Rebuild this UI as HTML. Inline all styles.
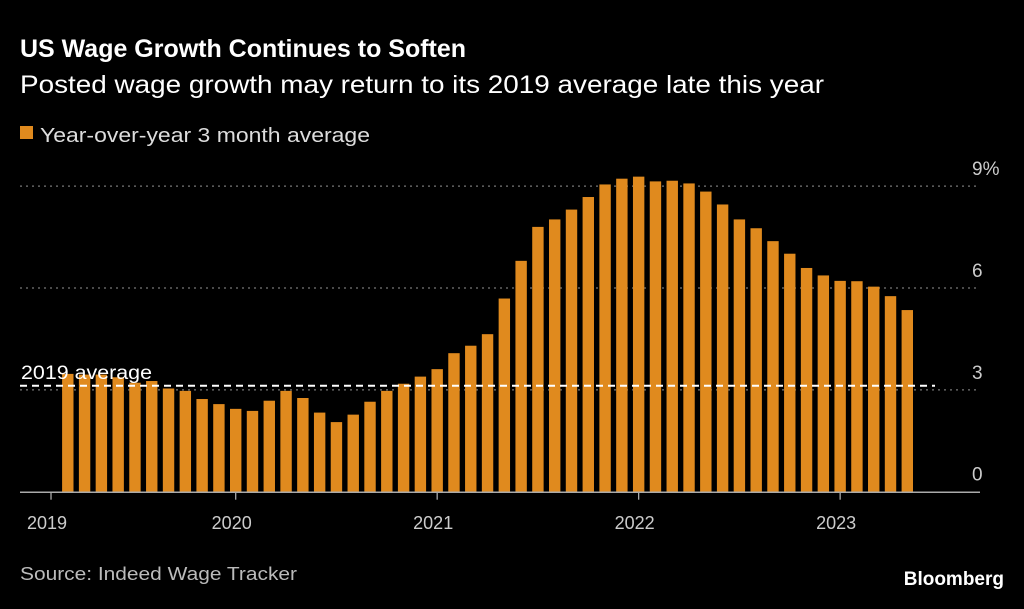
<!DOCTYPE html>
<html><head><meta charset="utf-8"><style>
body{margin:0;background:#000;width:1024px;height:604px;overflow:hidden;font-family:"Liberation Sans",sans-serif;}
</style></head><body>
<svg width="1024" height="604" xmlns="http://www.w3.org/2000/svg">
<text x="20" y="57" fill="#fff" font-size="25" font-weight="bold" textLength="446" lengthAdjust="spacingAndGlyphs">US Wage Growth Continues to Soften</text>
<text x="20" y="93" fill="#fff" font-size="25" textLength="804" lengthAdjust="spacingAndGlyphs">Posted wage growth may return to its 2019 average late this year</text>
<rect x="20" y="126" width="13" height="13" fill="#e08a1e"/>
<text x="40" y="142" fill="#ddd" font-size="20" textLength="330" lengthAdjust="spacingAndGlyphs">Year-over-year 3 month average</text>
<g id="grid"></g>
<g id="bars"></g>
<g id="over"></g>
<text x="20" y="580" fill="#bbb" font-size="18" textLength="277" lengthAdjust="spacingAndGlyphs">Source: Indeed Wage Tracker</text>
<text x="1004" y="585" fill="#fff" font-size="19" font-weight="bold" text-anchor="end">Bloomberg</text>
</svg>
<script>
const months = Array.from({length:51},(_,i)=>i+2); // months since Jan 2019
const values = [3.47,3.45,3.45,3.37,3.21,3.26,3.04,2.97,2.73,2.58,2.44,2.38,2.68,2.97,2.76,2.33,2.05,2.27,2.65,2.97,3.18,3.39,3.61,4.08,4.30,4.64,5.69,6.80,7.80,8.02,8.31,8.68,9.05,9.22,9.28,9.14,9.16,9.08,8.84,8.46,8.02,7.76,7.38,7.01,6.59,6.37,6.21,6.20,6.04,5.76,5.35];
const yTicks = [0,3,6,9];
const yTickLabels = ["0","3","6","9%"];
const years = ["2019","2020","2021","2022","2023"];
const yearMonths = [1,12,24,36,48];
const avg2019 = 3.12;
const NS="http://www.w3.org/2000/svg";
const x = m => 235.7 + (m-12)*16.79;
const y = v => 491.7 - v*33.95;
function mk(t,a,p){const e=document.createElementNS(NS,t);for(const k in a)e.setAttribute(k,a[k]);p.appendChild(e);return e;}
const grid=document.getElementById('grid'),bars=document.getElementById('bars'),over=document.getElementById('over');
yTicks.forEach((v,i)=>{
  if(v>0){const l=mk('line',{x1:20,x2:980,y1:y(v),y2:y(v),stroke:'#777','stroke-width':1.3,'stroke-dasharray':'2,4'},grid);
  
  }
  const t=mk('text',{x:972,y:y(v)-11,fill:'#ccc','font-size':19},grid);
  
  
  t.textContent=yTickLabels[i];
});
values.forEach((v,i)=>{
  const r=mk('rect',{x:x(months[i])-5.7,y:y(v),width:11.4,height:y(0)-y(v),fill:'#e08a1e'},bars);
  
  
});
const base=mk('line',{x1:20,x2:980,y1:y(0)+0.5,y2:y(0)+0.5,stroke:'#aaa','stroke-width':1.5},over);


years.forEach((s,i)=>{
  const tx=x(yearMonths[i]);
  const tk=mk('line',{x1:tx,x2:tx,y1:y(0),y2:y(0)+8,stroke:'#aaa','stroke-width':1.3},over);
  
  
  const t=mk('text',{x:tx-4,y:529,fill:'#ccc','font-size':18,'text-anchor':'middle'},over);
  
  
  t.textContent=s;
});
const av=mk('line',{x1:20,x2:935,y1:y(avg2019),y2:y(avg2019),stroke:'#fff','stroke-width':2,'stroke-dasharray':'7,5'},over);


const at=mk('text',{x:21,y:y(avg2019)-7,fill:'#fff','font-size':19,textLength:131,lengthAdjust:'spacingAndGlyphs'},over);


at.textContent='2019 average';
</script>
</body></html>
